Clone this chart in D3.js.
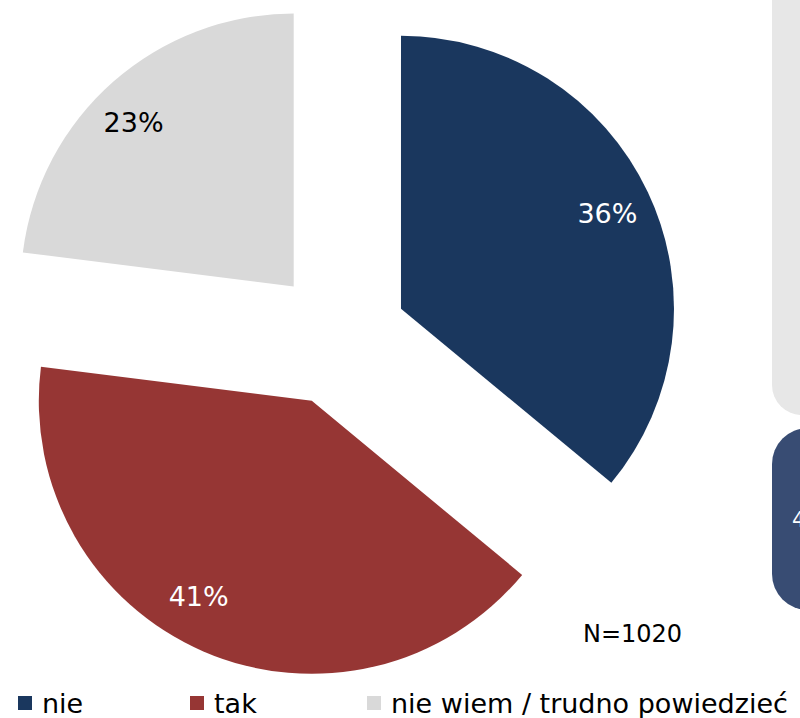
<!DOCTYPE html>
<html>
<head>
<meta charset="utf-8">
<script src="https://cdn.jsdelivr.net/npm/d3@7"></script>
<style>
  body { margin: 0; background: #fff; }
  svg { display: block; font-family: "DejaVu Sans", Verdana, sans-serif; }
</style>
</head>
<body>
<div id="chart"></div>
<script>
// data
var categories = ["nie", "tak", "nie wiem / trudno powiedzieć"];
var values = [36, 41, 23];
var colors = ["#1a375e", "#963634", "#d9d9d9"];
var labelColors = ["#ffffff", "#ffffff", "#000000"];
var sampleNote = "N=1020";

var width = 800, height = 718;
var cx = 339, cy = 338,
    radius = 273,
    explode = 68.5,
    labelRadius = 227;
// small hand nudges so labels sit where the original put them
var labelNudge = [[1, 1], [-23, -13], [-10, 6]];

var svg = d3.select("#chart").append("svg")
    .attr("width", width)
    .attr("height", height);

// cropped panels at the right edge (part of the neighbouring slide)
svg.append("rect")
    .attr("x", 772).attr("y", -40)
    .attr("width", 80).attr("height", 455)
    .attr("rx", 30)
    .attr("fill", "#e7e7e7");

svg.append("rect")
    .attr("x", 772).attr("y", 428)
    .attr("width", 80).attr("height", 182)
    .attr("rx", 36)
    .attr("fill", "#384c73");

svg.append("text")
    .attr("x", 792).attr("y", 527)
    .attr("fill", "#fff")
    .style("font-size", "21px")
    .text("4");

// pie
var pie = d3.pie().sort(null).value(function(d) { return d; });
var arc = d3.arc().innerRadius(0).outerRadius(radius);
var labelArc = d3.arc().innerRadius(labelRadius).outerRadius(labelRadius);

var g = svg.append("g")
    .attr("transform", "translate(" + cx + "," + cy + ")");

var slices = g.selectAll("g.slice")
    .data(pie(values))
    .enter().append("g")
    .attr("class", "slice")
    .attr("transform", function(d) {
        var a = (d.startAngle + d.endAngle) / 2;
        return "translate(" + (explode * Math.sin(a)) + "," + (-explode * Math.cos(a)) + ")";
    });

slices.append("path")
    .attr("d", arc)
    .attr("fill", function(d, i) { return colors[i]; });

slices.append("text")
    .attr("transform", function(d, i) {
        var c = labelArc.centroid(d);
        return "translate(" + (c[0] + labelNudge[i][0]) + "," + (c[1] + labelNudge[i][1]) + ")";
    })
    .attr("text-anchor", "middle")
    .attr("dy", "0.36em")
    .attr("fill", function(d, i) { return labelColors[i]; })
    .style("font-size", "27px")
    .text(function(d) { return d.data + "%"; });

// sample size note
svg.append("text")
    .attr("x", 583).attr("y", 642)
    .attr("fill", "#000")
    .style("font-size", "24px")
    .text(sampleNote);

// legend
var legendX = [18, 190, 367];
var legend = svg.selectAll("g.legend")
    .data(categories)
    .enter().append("g")
    .attr("class", "legend")
    .attr("transform", function(d, i) { return "translate(" + legendX[i] + ",0)"; });

legend.append("rect")
    .attr("x", 0).attr("y", 696)
    .attr("width", 14).attr("height", 14)
    .attr("fill", function(d, i) { return colors[i]; });

legend.append("text")
    .attr("x", 24).attr("y", 713)
    .attr("fill", "#000")
    .style("font-size", "27px")
    .text(function(d) { return d; });
</script>
</body>
</html>
